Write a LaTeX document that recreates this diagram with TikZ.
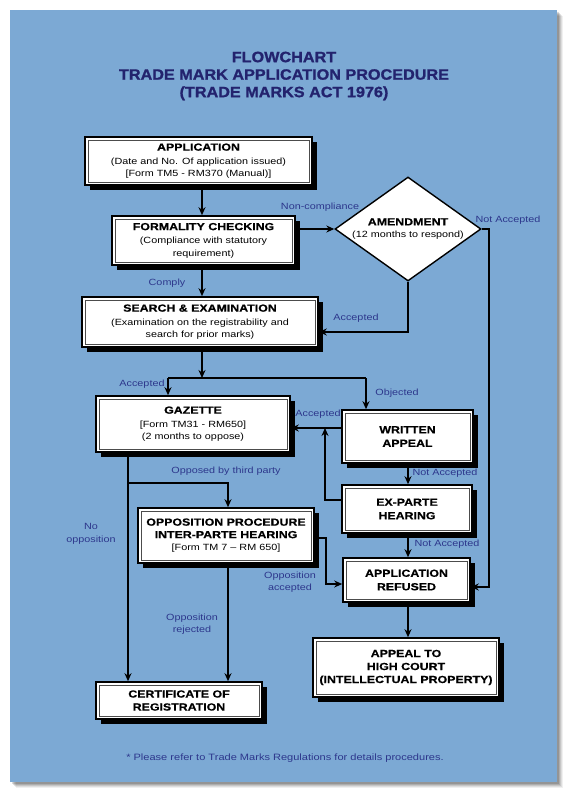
\documentclass[tikz,border=0pt]{standalone}
\usepackage{fontspec}
\setmainfont{Liberation Sans}
\newfontfamily\regf[FakeStretch=1.2, BoldFeatures={FakeBold=0.6}]{Liberation Sans}
\newfontfamily\ttlf[FakeStretch=1.08,FakeBold=1.2]{Liberation Sans}
\usetikzlibrary{shapes.geometric,arrows.meta,calc}
\definecolor{panel}{RGB}{124,169,212}
\definecolor{titlecol}{RGB}{35,35,110}
\definecolor{labcol}{RGB}{45,55,140}
\newcommand{\hdr}[1]{{\fontsize{10.3}{13}\selectfont\bfseries #1}}
\begin{document}
\begin{tikzpicture}[x=1pt,y=-1pt,
  box/.style={draw=black, line width=1.6pt, fill=white, align=center, inner sep=2pt,
    font=\regf\fontsize{9}{12.5}\selectfont,
    preaction={fill=black, transform canvas={xshift=4.5pt,yshift=-4.5pt}},
    path picture={\draw[black!70, line width=0.6pt]
      ([shift={(3pt,3pt)}]path picture bounding box.south west) rectangle
      ([shift={(-3pt,-3pt)}]path picture bounding box.north east);}},
  bbox/.style={box, font=\regf\fontsize{10.3}{13.5}\selectfont\bfseries},
  decision/.style={diamond, draw=black, line width=1.4pt, fill=white, align=center,
    inner sep=-4pt, minimum width=146pt, minimum height=104pt, aspect=1.4,
    font=\regf\fontsize{9}{12.5}\selectfont},
  lab/.style={text=labcol, font=\regf\fontsize{9}{12.5}\selectfont, align=center, inner sep=0pt},
  ttl/.style={text=titlecol, font=\ttlf\fontsize{15}{17.5}\selectfont\bfseries, align=center},
  arr/.style={line width=1.3pt, -{Stealth[length=8pt,width=7pt]}},
  ln/.style={line width=1.3pt}
]
\useasboundingbox (0,0) rectangle (572,797);
\fill[white] (0,0) rectangle (572,797);
% panel shadow
\foreach \d/\o in {6/0.06,5/0.08,4/0.1,3/0.12,2/0.14}
  \fill[black, opacity=\o] (10+\d,10+\d) rectangle (557+\d,782+\d);
\fill[panel] (10,10) rectangle (557,782);

% title
\node[ttl] (title) at (284,76) {FLOWCHART\\TRADE MARK APPLICATION PROCEDURE\\(TRADE MARKS ACT 1976)};

% nodes
\node[box, minimum width=227pt, minimum height=48pt] (app) at (198.5,161)
  {\hdr{APPLICATION}\\[1pt](Date and No. Of application issued)\\{}[Form TM5 - RM370 (Manual)]};
\node[box, minimum width=183pt, minimum height=49pt] (form) at (203.5,240.5)
  {\hdr{FORMALITY CHECKING}\\[1pt](Compliance with statutory\\requirement)};
\node[decision] (amend) at (408,229) {\hdr{AMENDMENT}\\(12 months to respond)};
\node[box, minimum width=236pt, minimum height=50pt] (search) at (200,322)
  {\hdr{SEARCH \& EXAMINATION}\\[1pt](Examination on the registrability and\\search for prior marks)};
\node[box, minimum width=194pt, minimum height=56pt] (gaz) at (193,424)
  {\hdr{GAZETTE}\\[1pt]{}[Form TM31 - RM650]\\(2 months to oppose)};
\node[bbox, minimum width=131pt, minimum height=53pt] (writ) at (407.5,436.5) {WRITTEN\\APPEAL};
\node[bbox, minimum width=130pt, minimum height=48pt] (exp) at (407,509) {EX-PARTE\\HEARING};
\node[box, minimum width=176pt, minimum height=55pt] (opp) at (226,535.5)
  {\hdr{OPPOSITION PROCEDURE}\\\hdr{INTER-PARTE HEARING}\\{}[Form TM 7 – RM 650]};
\node[bbox, minimum width=127pt, minimum height=44pt] (ref) at (406.5,580) {APPLICATION\\REFUSED};
\node[bbox, minimum width=186pt, minimum height=59pt] (hc) at (406,667.5)
  {APPEAL TO\\[-0.5pt]HIGH COURT\\[-0.5pt](INTELLECTUAL PROPERTY)};
\node[bbox, minimum width=166pt, minimum height=37pt] (cert) at (179,700.5)
  {CERTIFICATE OF\\[-0.5pt]REGISTRATION};

% helper coordinates
\coordinate (c202) at (202,0);
\coordinate (c168) at (168,0);
\coordinate (c366) at (366,0);
\coordinate (c128) at (128,0);
\coordinate (c228) at (228,0);
\coordinate (c408) at (408,0);
\coordinate (c325) at (325,0);
\coordinate (c326) at (326,0);
\coordinate (c489) at (489,0);
\coordinate (jS) at (202,378);
\coordinate (y332) at (0,332);
\coordinate (y428) at (0,428);
\coordinate (y500) at (0,500);
\coordinate (y483) at (0,483);
\coordinate (y538) at (0,538);
\coordinate (y584) at (0,584);
\coordinate (y587) at (0,587);

% connectors
\draw[arr] (app.south -| c202) -- (form.north -| c202);
\draw[arr] (form.east |- amend.west) -- (amend.west);
\draw[arr] (form.south -| c202) -- (search.north -| c202);
\draw[arr] (amend.south) -- (amend.south |- y332) -- (search.east |- y332);
\draw[arr] (amend.east) -- (amend.east -| c489) -- (c489 |- y587) -- (ref.east |- y587);
\draw[arr] (search.south -| c202) -- (jS);
\draw[ln] (jS -| c168) -- (jS -| c366);
\draw[arr] (jS -| c168) -- (gaz.north -| c168);
\draw[arr] (jS -| c366) -- (writ.north -| c366);
\draw[arr] (writ.west |- y428) -- (gaz.east |- y428);
\draw[arr] (exp.west |- y500) -- (c325 |- y500) -- (c325 |- y428);
\draw[arr] (writ.south -| c408) -- (exp.north -| c408);
\draw[arr] (gaz.south -| c128) -- (cert.north -| c128);
\draw[arr] (c128 |- y483) -- (c228 |- y483) -- (opp.north -| c228);
\draw[arr] (opp.east |- y538) -- (c326 |- y538) -- (c326 |- y584) -- (ref.west |- y584);
\draw[arr] (opp.south -| c228) -- (cert.north -| c228);
\draw[arr] (exp.south -| c408) -- (ref.north -| c408);
\draw[arr] (ref.south -| c408) -- (hc.north -| c408);

% labels
\node[lab] (l1) at (320,207) {Non-compliance};
\node[lab] (l2) at (508,220) {Not Accepted};
\node[lab] (l3) at (167,283) {Comply};
\node[lab] (l4) at (356,318) {Accepted};
\node[lab] (l5) at (142,384) {Accepted};
\node[lab] (l6) at (397,393) {Objected};
\node[lab] (l7) at (318,414) {Accepted};
\node[lab] (l8) at (445,473) {Not Accepted};
\node[lab] (l9) at (226,471) {Opposed by third party};
\node[lab] (l10) at (91,534) {No\\opposition};
\node[lab] (l11) at (290,582) {Opposition\\accepted};
\node[lab] (l12) at (192,624) {Opposition\\rejected};
\node[lab] (l13) at (447,544) {Not Accepted};
\node[lab, font=\regf\fontsize{9.2}{12.5}\selectfont] (foot) at (285,758) {* Please refer to Trade Marks Regulations for details procedures.};
\end{tikzpicture}
\end{document}
